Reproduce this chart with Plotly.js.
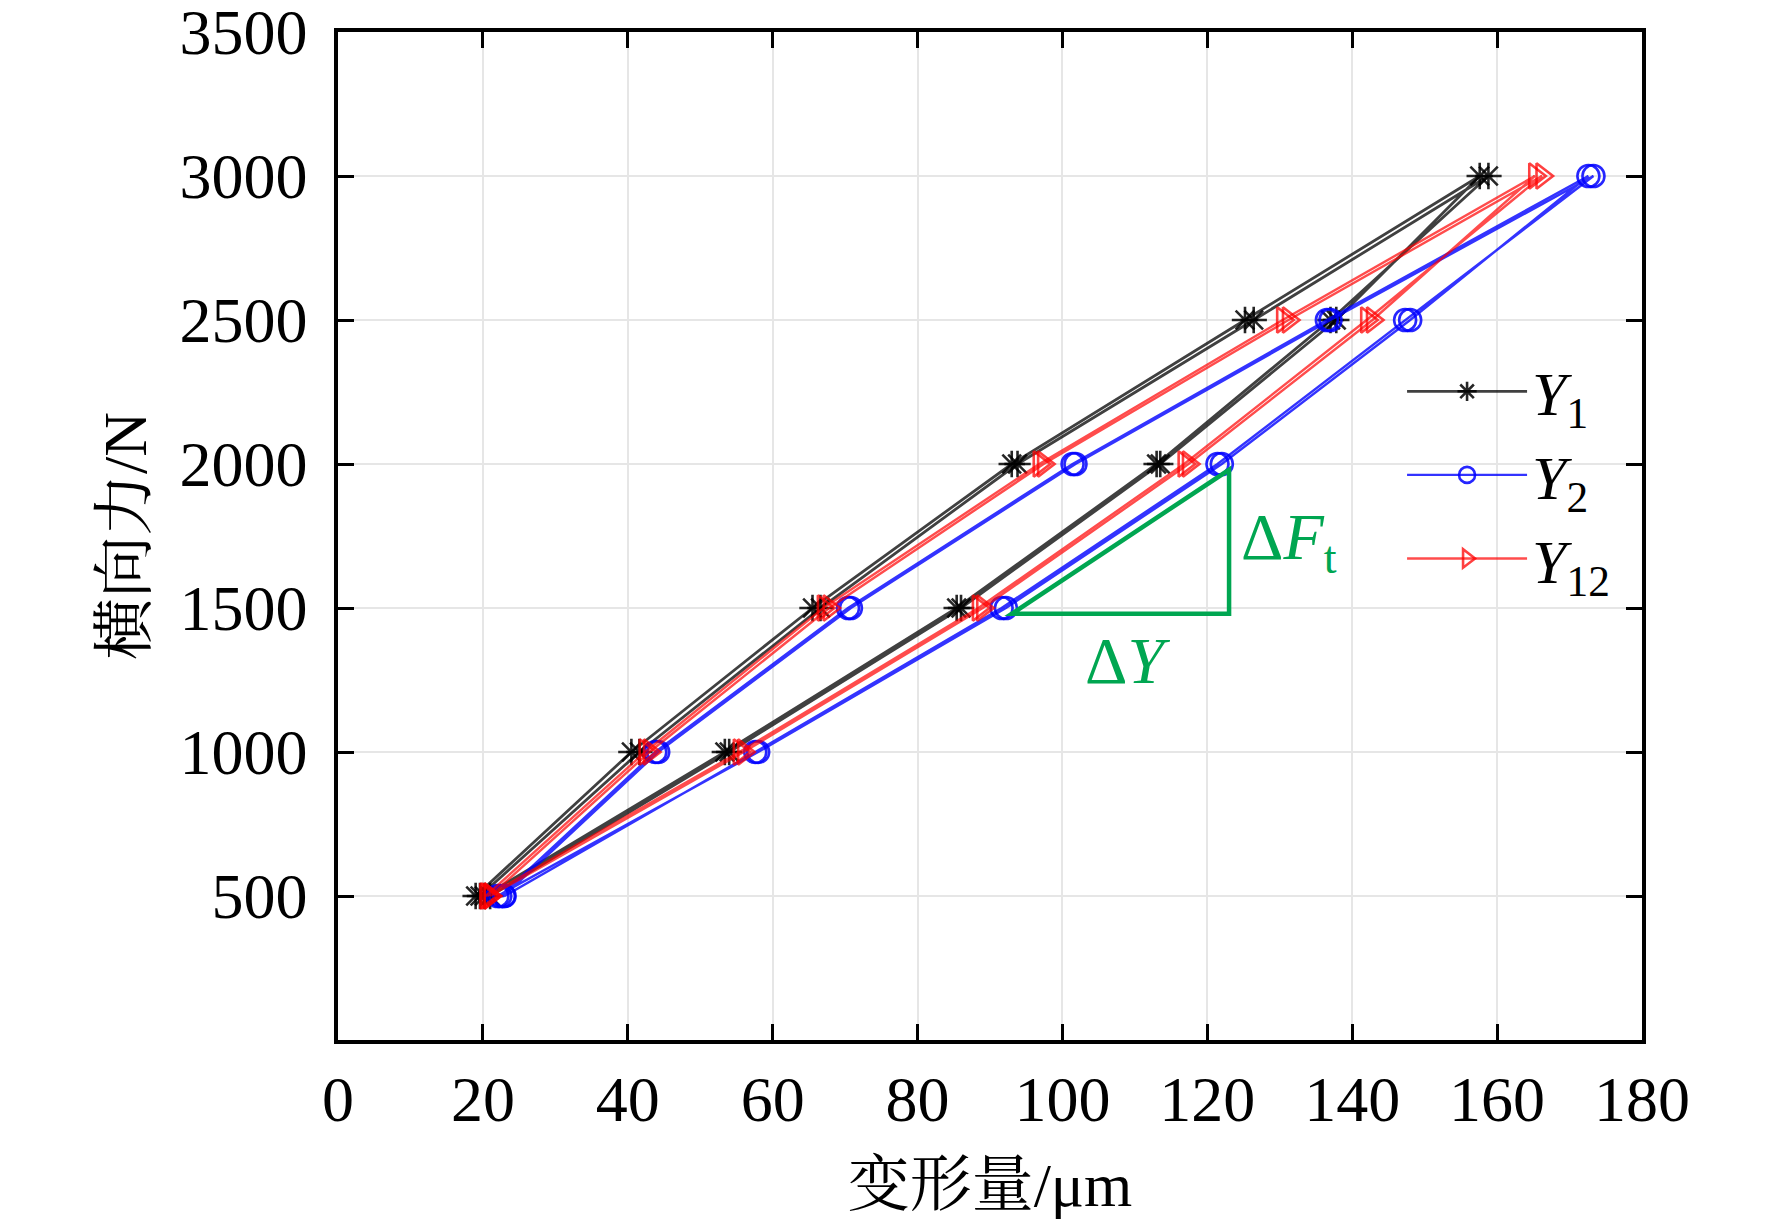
<!DOCTYPE html>
<html>
<head>
<meta charset="utf-8">
<script src="https://cdn.plot.ly/plotly-3.0.1.min.js"></script>
<style>
  html, body { margin: 0; padding: 0; background: #ffffff; }
  #chart { width: 1772px; height: 1224px; }
</style>
</head>
<body>
<div id="chart"></div>
<script>
// 横向力 (N): two load/unload cycles, 500 -> 3000 -> 500, twice
const force = [500, 1000, 1500, 2000, 2500, 3000, 2500, 2000, 1500, 1000, 500,
               500, 1000, 1500, 2000, 2500, 3000, 2500, 2000, 1500, 1000, 500];

// 变形量 (µm)
const defY1 = [19.0, 40.5, 65.5, 93.0, 125.2, 157.6, 137.8, 113.5, 86.0, 54.0, 21.0,
               19.6, 41.6, 66.6, 93.8, 126.4, 158.8, 137.0, 113.0, 85.4, 53.4, 20.2];
const defY2 = [22.4, 43.8, 70.4, 101.4, 136.5, 172.6, 148.0, 122.0, 92.2, 58.0, 22.0,
               22.9, 44.2, 70.8, 101.8, 137.0, 173.3, 147.3, 121.4, 91.6, 57.6, 23.0];
const defY12 = [20.4, 42.4, 67.0, 96.8, 130.4, 165.2, 142.8, 117.4, 89.0, 56.0, 21.0,
                21.0, 43.0, 67.8, 97.4, 131.2, 166.2, 142.0, 116.8, 88.4, 55.4, 20.6];

// legend names
const names = ["<i>Y</i><sub>1</sub>", "<i>Y</i><sub>2</sub>", "<i>Y</i><sub>12</sub>"];

// ΔY / ΔFt marker triangle corners (µm, N)
const triX = [93, 123];
const triF = [1480, 1980];

const serif = "Liberation Serif, Noto Serif CJK SC, Noto Sans CJK SC, serif";
const green = "#00a651";

const traces = [
  {
    x: defY1, y: force, name: names[0], type: "scatter", mode: "lines+markers",
    line: { color: "rgba(0,0,0,0.75)", width: 2.8 },
    marker: { symbol: "asterisk-open", size: 22, color: "rgba(0,0,0,0.85)", line: { color: "rgba(0,0,0,0.85)", width: 2.6 } }
  },
  {
    x: defY2, y: force, name: names[1], type: "scatter", mode: "lines+markers",
    line: { color: "rgba(0,0,255,0.8)", width: 2.4 },
    marker: { symbol: "circle-open", size: 22, color: "rgba(0,0,255,0.85)", line: { width: 2.6 } }
  },
  {
    x: defY12, y: force, name: names[2], type: "scatter", mode: "lines+markers",
    line: { color: "rgba(255,0,0,0.7)", width: 2.4 },
    marker: { symbol: "triangle-right-open", size: 22, color: "rgba(255,0,0,0.75)", line: { width: 2.6 } }
  }
];

const layout = {
  width: 1772,
  height: 1224,
  paper_bgcolor: "#ffffff",
  plot_bgcolor: "#ffffff",
  margin: { l: 338, r: 130, t: 32, b: 184 },
  font: { family: serif, size: 64, color: "#000000" },
  showlegend: true,
  legend: {
    x: 0.816, y: 0.69, xanchor: "left", yanchor: "top",
    bgcolor: "rgba(0,0,0,0)", borderwidth: 0,
    itemwidth: 120, tracegroupgap: 0,
    font: { family: serif, size: 62, color: "#000000" }
  },
  xaxis: {
    range: [0, 180], dtick: 20, tick0: 0,
    showline: true, linecolor: "#000000", linewidth: 3.5, mirror: "ticks",
    ticks: "inside", ticklen: 16, tickwidth: 3, tickcolor: "#000000",
    showgrid: true, gridcolor: "#e6e6e6", gridwidth: 2, zeroline: false,
    ticklabelstandoff: 0, ticklabeloverflow: "allow",
    tickfont: { family: serif, size: 64, color: "#000000" },
    title: { text: "变形量/μm", standoff: 30, font: { family: serif, size: 62, color: "#000000" } }
  },
  yaxis: {
    range: [0, 3500], tickvals: [500, 1000, 1500, 2000, 2500, 3000, 3500],
    showline: true, linecolor: "#000000", linewidth: 3.5, mirror: "ticks",
    ticks: "inside", ticklen: 16, tickwidth: 3, tickcolor: "#000000",
    showgrid: true, gridcolor: "#e6e6e6", gridwidth: 2, zeroline: false,
    ticklabelstandoff: 14, ticklabeloverflow: "allow",
    tickfont: { family: serif, size: 64, color: "#000000" },
    title: { text: "横向力/N", standoff: 14, font: { family: serif, size: 62, color: "#000000" } }
  },
  shapes: [
    {
      type: "path", xref: "x", yref: "y",
      path: "M " + triX[0] + "," + triF[0] + " L " + triX[1] + "," + triF[0] +
            " L " + triX[1] + "," + triF[1] + " Z",
      line: { color: green, width: 4.5 }
    }
  ],
  annotations: [
    {
      xref: "x", yref: "y", x: (triX[0] + triX[1]) / 2 + 1, y: triF[0],
      yanchor: "top", yshift: -8, showarrow: false,
      text: "Δ<i>Y</i>", font: { family: serif, size: 66, color: green }
    },
    {
      xref: "x", yref: "y", x: triX[1], y: (triF[0] + triF[1]) / 2,
      xanchor: "left", xshift: 10, showarrow: false,
      text: "Δ<i>F</i><sub>t</sub>", font: { family: serif, size: 66, color: green }
    }
  ]
};

Plotly.newPlot("chart", traces, layout, { displayModeBar: false, responsive: false });
</script>
</body>
</html>
